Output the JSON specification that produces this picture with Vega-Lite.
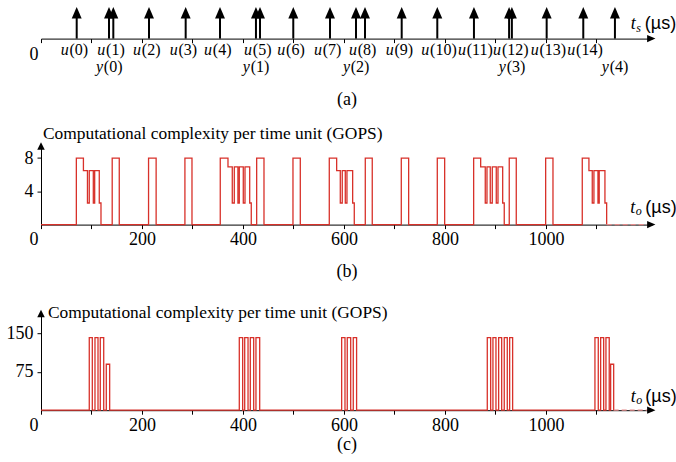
{
  "$schema": "https://vega.github.io/schema/vega-lite/v6.json",
  "background": "white",
  "padding": {"left": 6, "top": 7, "right": 0, "bottom": 0},
  "bounds": "flush",
  "spacing": 88.6,
  "config": {
    "font": "Liberation Serif",
    "view": {"stroke": null},
    "axis": {"domainColor": "black", "tickColor": "black", "labelColor": "black", "titleColor": "black", "labelFont": "Liberation Serif", "titleFont": "Liberation Serif", "labelFontSize": 18, "titleFontSize": 18, "titleFontWeight": "normal", "grid": false, "tickSize": 4, "domainWidth": 1, "tickWidth": 1}
  },
  "datasets": {
    "a": [
      {"t": 70.7, "s": "u", "n": "(0)"},
      {"t": 134.7, "s": "y", "n": "(0)"},
      {"t": 143.2, "s": "u", "n": "(1)"},
      {"t": 213.9, "s": "u", "n": "(2)"},
      {"t": 286.5, "s": "u", "n": "(3)"},
      {"t": 354.5, "s": "u", "n": "(4)"},
      {"t": 425.7, "s": "y", "n": "(1)"},
      {"t": 433.7, "s": "u", "n": "(5)"},
      {"t": 499.6, "s": "u", "n": "(6)"},
      {"t": 572.3, "s": "u", "n": "(7)"},
      {"t": 623.8, "s": "y", "n": "(2)"},
      {"t": 641.6, "s": "u", "n": "(8)"},
      {"t": 714.3, "s": "u", "n": "(9)"},
      {"t": 784.8, "s": "u", "n": "(10)"},
      {"t": 857.4, "s": "u", "n": "(11)"},
      {"t": 927.0, "s": "u", "n": "(12)"},
      {"t": 932.5, "s": "y", "n": "(3)"},
      {"t": 1001.4, "s": "u", "n": "(13)"},
      {"t": 1073.9, "s": "u", "n": "(14)"},
      {"t": 1136.6, "s": "y", "n": "(4)"}
    ],
    "b": [
      {"t": 0, "v": 0}, {"t": 70, "v": 8}, {"t": 84, "v": 6.5}, {"t": 92, "v": 2.6}, {"t": 95.6, "v": 6.5}, {"t": 103.6, "v": 2.6}, {"t": 106.3, "v": 6.5}, {"t": 115.4, "v": 2.6}, {"t": 118.8, "v": 0},
      {"t": 141, "v": 8}, {"t": 155, "v": 0}, {"t": 213, "v": 8}, {"t": 228, "v": 0}, {"t": 285, "v": 8}, {"t": 299, "v": 0},
      {"t": 355, "v": 8}, {"t": 370.3, "v": 6.95}, {"t": 378.8, "v": 2.6}, {"t": 382.8, "v": 6.95}, {"t": 390, "v": 2.6}, {"t": 392.7, "v": 6.95}, {"t": 400.6, "v": 2.6}, {"t": 404, "v": 6.95}, {"t": 413.3, "v": 2.6}, {"t": 416.4, "v": 0},
      {"t": 427.1, "v": 8}, {"t": 441.6, "v": 0}, {"t": 499, "v": 8}, {"t": 513.5, "v": 0},
      {"t": 570.9, "v": 8}, {"t": 585.5, "v": 6.5}, {"t": 592.7, "v": 2.6}, {"t": 596.6, "v": 6.5}, {"t": 602.6, "v": 2.6}, {"t": 605.9, "v": 6.5}, {"t": 617.2, "v": 2.6}, {"t": 620.4, "v": 0},
      {"t": 642.2, "v": 8}, {"t": 656, "v": 0}, {"t": 713.5, "v": 8}, {"t": 728.1, "v": 0}, {"t": 784.8, "v": 8}, {"t": 799.4, "v": 0},
      {"t": 856.8, "v": 8}, {"t": 870.7, "v": 6.95}, {"t": 879.8, "v": 2.6}, {"t": 883.2, "v": 6.95}, {"t": 889.7, "v": 2.6}, {"t": 893.7, "v": 6.95}, {"t": 901.6, "v": 2.6}, {"t": 905, "v": 6.95}, {"t": 914.3, "v": 2.6}, {"t": 917.4, "v": 0},
      {"t": 927.3, "v": 8}, {"t": 941.2, "v": 0}, {"t": 999.4, "v": 8}, {"t": 1013.9, "v": 0},
      {"t": 1071.9, "v": 8}, {"t": 1085.1, "v": 6.5}, {"t": 1091.7, "v": 2.6}, {"t": 1095, "v": 6.5}, {"t": 1103, "v": 2.6}, {"t": 1105.5, "v": 6.5}, {"t": 1116.8, "v": 2.6}, {"t": 1120.2, "v": 0}
    ],
    "c": [
      {"t": 0, "v": 0}, {"t": 95.6, "v": 142}, {"t": 101.6, "v": 0}, {"t": 106.9, "v": 142}, {"t": 112.9, "v": 0}, {"t": 117.4, "v": 142}, {"t": 124.2, "v": 0}, {"t": 129.3, "v": 90}, {"t": 136, "v": 0},
      {"t": 392.7, "v": 142}, {"t": 399.4, "v": 0}, {"t": 403.4, "v": 142}, {"t": 410, "v": 0}, {"t": 414.5, "v": 142}, {"t": 421.2, "v": 0}, {"t": 425.7, "v": 142}, {"t": 433.1, "v": 0},
      {"t": 595.4, "v": 142}, {"t": 602, "v": 0}, {"t": 606.5, "v": 142}, {"t": 613.3, "v": 0}, {"t": 618.4, "v": 142}, {"t": 625, "v": 0},
      {"t": 883.8, "v": 142}, {"t": 890.5, "v": 0}, {"t": 895, "v": 142}, {"t": 901, "v": 0}, {"t": 906.3, "v": 142}, {"t": 912.3, "v": 0}, {"t": 917.4, "v": 142}, {"t": 923.4, "v": 0}, {"t": 928.1, "v": 142}, {"t": 934, "v": 0},
      {"t": 1097, "v": 142}, {"t": 1103.6, "v": 0}, {"t": 1108.3, "v": 142}, {"t": 1114.3, "v": 0}, {"t": 1118.8, "v": 142}, {"t": 1125.3, "v": 0}, {"t": 1128.1, "v": 90}, {"t": 1134.1, "v": 0}
    ],
    "bdash": [{"t": 1120.2, "v": 0}, {"t": 1200, "v": 0}],
    "cdash": [{"t": 1134.1, "v": 0}, {"t": 1200, "v": 0}]
  },
  "vconcat": [
    {
      "width": 611,
      "height": 49.4,
      "data": {"name": "a"},
      "encoding": {
        "x": {"field": "t", "type": "quantitative", "scale": {"domain": [0, 1210], "nice": false, "zero": false},
          "axis": {"values": [0, 100, 200, 300, 400, 500, 600, 700, 800, 900, 1000, 1100], "labelExpr": "datum.value == 0 ? '0' : ''", "labelAlign": "right", "labelOffset": -3, "offset": -17.8, "title": "(a)", "titlePadding": 27, "labelPadding": 3}}
      },
      "layer": [
        {"mark": {"type": "rule", "strokeWidth": 2, "color": "black"},
          "encoding": {"y": {"datum": 0, "type": "quantitative", "scale": {"domain": [-0.563, 1], "nice": false, "zero": false}, "axis": null}, "y2": {"datum": 0.68}}},
        {"mark": {"type": "point", "shape": "M0,-1L-0.86,1L0.86,1Z", "filled": true, "color": "black", "size": 134, "opacity": 1, "strokeWidth": 0},
          "encoding": {"y": {"datum": 0.816, "type": "quantitative"}}},
        {"transform": [{"filter": "datum.s == 'u'"}],
          "mark": {"type": "text", "font": "Liberation Serif", "fontStyle": "italic", "fontSize": 16, "align": "right", "baseline": "alphabetic", "dx": -8, "dy": 16.7, "color": "black"},
          "encoding": {"y": {"datum": 0, "type": "quantitative"}, "text": {"field": "s"}}},
        {"transform": [{"filter": "datum.s == 'u'"}],
          "mark": {"type": "text", "font": "Liberation Serif", "fontSize": 16, "align": "left", "baseline": "alphabetic", "dx": -7.2, "dy": 16.7, "color": "black"},
          "encoding": {"y": {"datum": 0, "type": "quantitative"}, "text": {"field": "n"}}},
        {"transform": [{"filter": "datum.s == 'y'"}],
          "mark": {"type": "text", "font": "Liberation Serif", "fontStyle": "italic", "fontSize": 16, "align": "right", "baseline": "alphabetic", "dx": -6, "dy": 33.4, "color": "black"},
          "encoding": {"y": {"datum": 0, "type": "quantitative"}, "text": {"field": "s"}}},
        {"transform": [{"filter": "datum.s == 'y'"}],
          "mark": {"type": "text", "font": "Liberation Serif", "fontSize": 16, "align": "left", "baseline": "alphabetic", "dx": -5.2, "dy": 33.4, "color": "black"},
          "encoding": {"y": {"datum": 0, "type": "quantitative"}, "text": {"field": "n"}}},
        {"data": {"values": [{"t": 0, "v": 0}]},
          "mark": {"type": "point", "shape": "M1,0L-1,-0.88L-1,0.88Z", "filled": true, "color": "black", "size": 69, "opacity": 1, "strokeWidth": 0},
          "encoding": {"x": {"datum": 1208.6, "type": "quantitative"}, "y": {"datum": 0, "type": "quantitative"}}},
        {"data": {"values": [{"t": 0, "v": 0}]},
          "mark": {"type": "text", "text": "t", "font": "Liberation Serif", "fontStyle": "italic", "fontSize": 18, "align": "left", "baseline": "alphabetic", "dy": -9.3, "color": "black"},
          "encoding": {"x": {"datum": 1168, "type": "quantitative"}, "y": {"datum": 0, "type": "quantitative"}}},
        {"data": {"values": [{"t": 0, "v": 0}]},
          "mark": {"type": "text", "text": "s", "font": "Liberation Serif", "fontStyle": "italic", "fontSize": 12, "align": "left", "baseline": "alphabetic", "dx": 5.5, "dy": -6.5, "color": "black"},
          "encoding": {"x": {"datum": 1168, "type": "quantitative"}, "y": {"datum": 0, "type": "quantitative"}}},
        {"data": {"values": [{"t": 0, "v": 0}]},
          "mark": {"type": "text", "text": "(µs)", "font": "Liberation Sans", "fontSize": 18, "align": "left", "baseline": "alphabetic", "dx": 14, "dy": -9.3, "color": "black"},
          "encoding": {"x": {"datum": 1168, "type": "quantitative"}, "y": {"datum": 0, "type": "quantitative"}}}
      ]
    },
    {
      "width": 611,
      "height": 79,
      "data": {"name": "b"},
      "encoding": {
        "x": {"field": "t", "type": "quantitative", "scale": {"domain": [0, 1210], "nice": false, "zero": false},
          "axis": {"values": [0, 100, 200, 300, 400, 500, 600, 700, 800, 900, 1000, 1100], "format": "d", "labelExpr": "datum.value % 200 == 0 ? datum.label : ''", "labelAlign": {"condition": {"test": "datum.value == 0", "value": "right"}, "value": "center"}, "labelOffset": {"condition": {"test": "datum.value == 0", "value": -3}, "value": 0}, "title": "(b)", "titlePadding": 14, "labelPadding": 2}},
        "y": {"field": "v", "type": "quantitative", "scale": {"domain": [0, 9.5], "nice": false}, "axis": {"values": [4, 8], "title": null, "labelPadding": 4}}
      },
      "layer": [
        {"mark": {"type": "line", "interpolate": "step-after", "color": "#d8312a", "strokeWidth": 1.3}},
        {"data": {"name": "bdash"}, "mark": {"type": "line", "color": "#e48a8a", "strokeWidth": 1.3, "strokeDash": [5, 3]}},
        {"data": {"values": [{"t": 0, "v": 0}]},
          "mark": {"type": "point", "shape": "M0,-1L-1,1L1,1Z", "filled": true, "color": "black", "size": 56, "opacity": 1, "strokeWidth": 0},
          "encoding": {"x": {"datum": 0, "type": "quantitative"}, "y": {"datum": 9.45, "type": "quantitative"}}},
        {"data": {"values": [{"t": 0, "v": 0}]},
          "mark": {"type": "point", "shape": "M1,0L-1,-0.88L-1,0.88Z", "filled": true, "color": "black", "size": 69, "opacity": 1, "strokeWidth": 0},
          "encoding": {"x": {"datum": 1208.6, "type": "quantitative"}, "y": {"datum": 0, "type": "quantitative"}}},
        {"data": {"values": [{"t": 0, "v": 0}]},
          "mark": {"type": "text", "text": "Computational complexity per time unit (GOPS)", "font": "Liberation Serif", "fontSize": 17.4, "align": "left", "baseline": "alphabetic", "dx": 2, "dy": -6.4, "color": "black"},
          "encoding": {"x": {"datum": 0, "type": "quantitative"}, "y": {"datum": 9.5, "type": "quantitative"}}},
        {"data": {"values": [{"t": 0, "v": 0}]},
          "mark": {"type": "text", "text": "t", "font": "Liberation Serif", "fontStyle": "italic", "fontSize": 18, "align": "left", "baseline": "alphabetic", "dy": -12, "color": "black"},
          "encoding": {"x": {"datum": 1167, "type": "quantitative"}, "y": {"datum": 0, "type": "quantitative"}}},
        {"data": {"values": [{"t": 0, "v": 0}]},
          "mark": {"type": "text", "text": "o", "font": "Liberation Serif", "fontStyle": "italic", "fontSize": 12, "align": "left", "baseline": "alphabetic", "dx": 5.5, "dy": -9.2, "color": "black"},
          "encoding": {"x": {"datum": 1167, "type": "quantitative"}, "y": {"datum": 0, "type": "quantitative"}}},
        {"data": {"values": [{"t": 0, "v": 0}]},
          "mark": {"type": "text", "text": "(µs)", "font": "Liberation Sans", "fontSize": 18, "align": "left", "baseline": "alphabetic", "dx": 15, "dy": -12, "color": "black"},
          "encoding": {"x": {"datum": 1167, "type": "quantitative"}, "y": {"datum": 0, "type": "quantitative"}}}
      ]
    },
    {
      "width": 611,
      "height": 97,
      "data": {"name": "c"},
      "encoding": {
        "x": {"field": "t", "type": "quantitative", "scale": {"domain": [0, 1210], "nice": false, "zero": false},
          "axis": {"values": [0, 100, 200, 300, 400, 500, 600, 700, 800, 900, 1000, 1100], "format": "d", "labelExpr": "datum.value % 200 == 0 ? datum.label : ''", "labelAlign": {"condition": {"test": "datum.value == 0", "value": "right"}, "value": "center"}, "labelOffset": {"condition": {"test": "datum.value == 0", "value": -3}, "value": 0}, "title": "(c)", "titlePadding": 1, "labelPadding": 2}},
        "y": {"field": "v", "type": "quantitative", "scale": {"domain": [0, 190], "nice": false}, "axis": {"values": [75, 150], "title": null, "labelPadding": 4}}
      },
      "layer": [
        {"mark": {"type": "line", "interpolate": "step-after", "color": "#d8312a", "strokeWidth": 1.3}},
        {"data": {"name": "cdash"}, "mark": {"type": "line", "color": "#e48a8a", "strokeWidth": 1.3, "strokeDash": [5, 3]}},
        {"data": {"values": [{"t": 0, "v": 0}]},
          "mark": {"type": "point", "shape": "M0,-1L-1,1L1,1Z", "filled": true, "color": "black", "size": 56, "opacity": 1, "strokeWidth": 0},
          "encoding": {"x": {"datum": 0, "type": "quantitative"}, "y": {"datum": 189.5, "type": "quantitative"}}},
        {"data": {"values": [{"t": 0, "v": 0}]},
          "mark": {"type": "point", "shape": "M1,0L-1,-0.88L-1,0.88Z", "filled": true, "color": "black", "size": 69, "opacity": 1, "strokeWidth": 0},
          "encoding": {"x": {"datum": 1208.6, "type": "quantitative"}, "y": {"datum": 0, "type": "quantitative"}}},
        {"data": {"values": [{"t": 0, "v": 0}]},
          "mark": {"type": "text", "text": "Computational complexity per time unit (GOPS)", "font": "Liberation Serif", "fontSize": 17.4, "align": "left", "baseline": "alphabetic", "dx": 7, "dy": 4.4, "color": "black"},
          "encoding": {"x": {"datum": 0, "type": "quantitative"}, "y": {"datum": 190, "type": "quantitative"}}},
        {"data": {"values": [{"t": 0, "v": 0}]},
          "mark": {"type": "text", "text": "t", "font": "Liberation Serif", "fontStyle": "italic", "fontSize": 18, "align": "left", "baseline": "alphabetic", "dy": -8.6, "color": "black"},
          "encoding": {"x": {"datum": 1168, "type": "quantitative"}, "y": {"datum": 0, "type": "quantitative"}}},
        {"data": {"values": [{"t": 0, "v": 0}]},
          "mark": {"type": "text", "text": "o", "font": "Liberation Serif", "fontStyle": "italic", "fontSize": 12, "align": "left", "baseline": "alphabetic", "dx": 5.5, "dy": -5.8, "color": "black"},
          "encoding": {"x": {"datum": 1168, "type": "quantitative"}, "y": {"datum": 0, "type": "quantitative"}}},
        {"data": {"values": [{"t": 0, "v": 0}]},
          "mark": {"type": "text", "text": "(µs)", "font": "Liberation Sans", "fontSize": 18, "align": "left", "baseline": "alphabetic", "dx": 14.5, "dy": -8.6, "color": "black"},
          "encoding": {"x": {"datum": 1168, "type": "quantitative"}, "y": {"datum": 0, "type": "quantitative"}}}
      ]
    }
  ]
}
